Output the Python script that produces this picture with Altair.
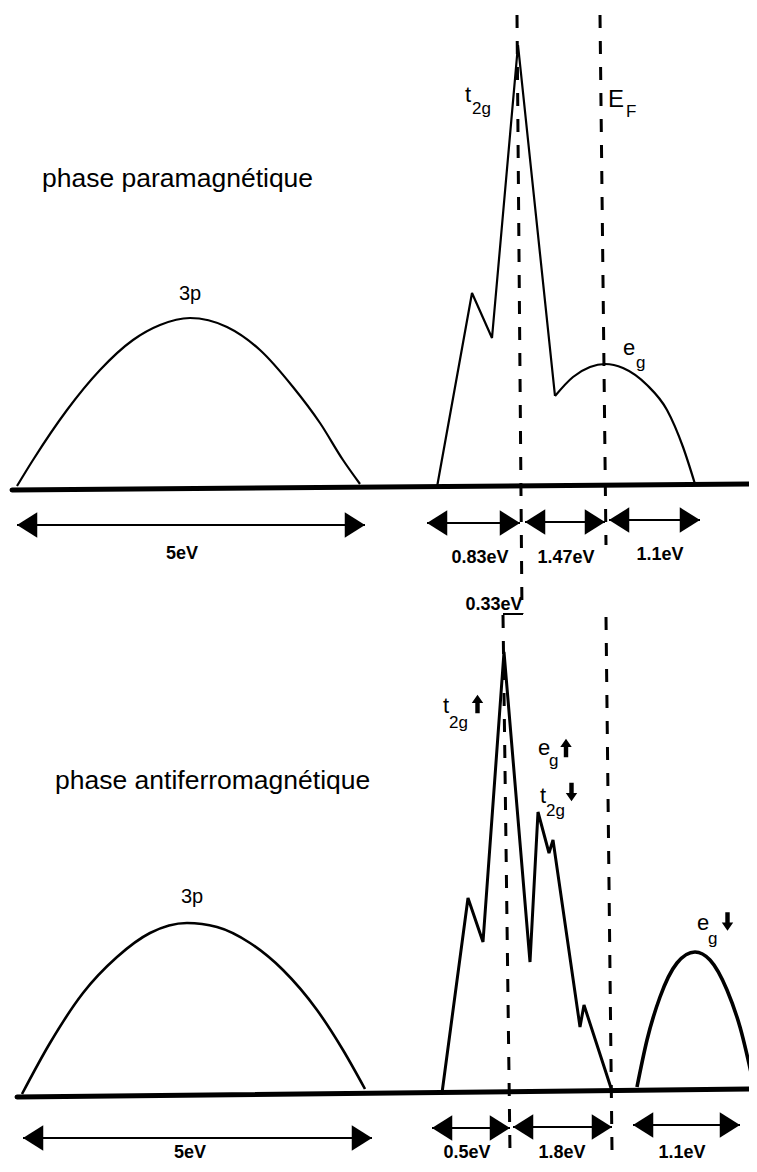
import altair as alt
import pandas as pd

# ---------------- drawing frame (schematic units = page pixels) ----------------
X0, X1 = 8, 749
Y0, Y1 = 8, 1164
PLOT_W, PLOT_H = X1 - X0, Y1 - Y0

# ---------------- paramagnetic phase: density-of-states outlines ----------------
p3_para_x = [17, 33, 67, 100, 133, 160, 190, 227, 260, 293, 320, 343, 360]
p3_para_y = [486, 460, 410, 370, 340, 325, 318, 327, 350, 387, 423, 460, 484]
t2g_para_x = [437, 472, 492, 518, 555]
t2g_para_y = [487, 293, 338, 45, 396]
eg_para_x = [555, 573, 590, 605, 623, 647, 667, 683, 695]
eg_para_y = [396, 377, 367, 364, 368, 385, 410, 447, 484]

# ---------------- antiferromagnetic phase ----------------
p3_af_x = [22, 50, 83, 117, 150, 187, 217, 250, 283, 317, 343, 365]
p3_af_y = [1094, 1043, 993, 957, 933, 923, 927, 943, 970, 1010, 1050, 1089]
t2g_af_x = [442, 468, 483, 504, 530, 538, 549, 553, 580, 584, 611]
t2g_af_y = [1093, 898, 942, 652, 962, 812, 853, 840, 1027, 1005, 1088]
eg_af_x = [637, 647, 660, 677, 695, 710, 727, 740, 754]
eg_af_y = [1087, 1040, 997, 963, 952, 960, 990, 1027, 1086]

# ---------------- energy axes (baselines) ----------------
base_x = [12, 17]
base_x2 = [757, 757]
base_y = [490, 1097]
base_y2 = [484, 1089]

# ---------------- dashed guides (t2g centre, Fermi level) ----------------
dash_x = [517, 600, 503, 606]
dash_x2 = [522, 606, 510, 612]
dash_y = [15, 15, 615, 617]
dash_y2 = [614, 545, 1152, 1150]

# ---------------- band-width arrows ----------------
arr_left = [17, 427, 525, 609, 23, 432, 513, 633]
arr_right = [365, 520, 605, 700, 372, 510, 612, 740]
arr_y = [525, 523, 522, 520, 1138, 1128, 1127, 1125]
arr_label = ["5eV", "0.83eV", "1.47eV", "1.1eV", "5eV", "0.5eV", "1.8eV", "1.1eV"]
arr_label_x = [182, 480, 566, 660, 190, 467, 562, 682]
arr_label_y = [559, 563, 563, 560, 1158, 1158, 1158, 1158]

# splitting label
split_label = ["0.33eV"]
split_x = [494]
split_y = [610]
under_x = [503]
under_x2 = [523]
under_y = [614]

# ---------------- titles and band labels ----------------
titles = ["phase paramagnétique", "phase antiferromagnétique"]
title_x = [42, 55]
title_y = [187, 789]

band3p = ["3p", "3p"]
band3p_x = [190, 192]
band3p_y = [300, 903]

main_txt = ["t", "E", "e", "t", "e", "t", "e"]
main_x = [465, 608, 623, 443, 538, 540, 697]
main_y = [102, 107, 355, 713, 755, 803, 930]
main_fs = [22, 24, 22, 22, 22, 22, 22]

sub_txt = ["2g", "F", "g", "2g", "g", "2g", "g"]
sub_x = [472, 626, 636, 449, 549, 546, 708]
sub_y = [114, 117, 368, 728, 766, 816, 944]

spin_x = [477.5, 566, 571.5, 727.5]
spin_y = [704, 748, 792, 921.5]
spin_dir = ["up", "up", "down", "down"]

FONT = "Liberation Sans"

xs = alt.Scale(domain=[X0, X1], nice=False, zero=False)
ys = alt.Scale(domain=[Y0, Y1], reverse=True, nice=False, zero=False)


def XX(f="x"):
    return alt.X(f"{f}:Q", scale=xs, axis=None)


def YY(f="y"):
    return alt.Y(f"{f}:Q", scale=ys, axis=None)


def series(items):
    rows = []
    for cid, xl, yl, w in items:
        for i, (a, b) in enumerate(zip(xl, yl)):
            rows.append(dict(id=cid, i=i, x=a, y=b, w=w))
    return pd.DataFrame(rows)


smooth_df = series([
    ("3p_para", p3_para_x, p3_para_y, 2.2),
    ("eg_para", eg_para_x, eg_para_y, 2.2),
    ("3p_af", p3_af_x, p3_af_y, 2.6),
    ("eg_af", eg_af_x, eg_af_y, 3.6),
])
poly_df = series([
    ("t2g_para", t2g_para_x, t2g_para_y, 2.2),
    ("t2g_af", t2g_af_x, t2g_af_y, 3.0),
])

smooth = alt.Chart(smooth_df).mark_line(interpolate="monotone", color="black").encode(
    x=XX(), y=YY(), detail="id:N", order="i:Q",
    strokeWidth=alt.StrokeWidth("w:Q", scale=None))
poly = alt.Chart(poly_df).mark_line(interpolate="linear", color="black",
                                    strokeJoin="miter", strokeMiterLimit=3).encode(
    x=XX(), y=YY(), detail="id:N", order="i:Q",
    strokeWidth=alt.StrokeWidth("w:Q", scale=None))

base_df = pd.DataFrame(dict(x=base_x, x2=base_x2, y=base_y, y2=base_y2))
base = alt.Chart(base_df).mark_rule(color="black", strokeWidth=5, strokeCap="round").encode(
    x=XX(), x2="x2:Q", y=YY(), y2="y2:Q")

dash_df = pd.DataFrame(dict(x=dash_x, x2=dash_x2, y=dash_y, y2=dash_y2))
dash = alt.Chart(dash_df).mark_rule(color="black", strokeWidth=3, strokeDash=[13, 13]).encode(
    x=XX(), x2="x2:Q", y=YY(), y2="y2:Q")

arr_df = pd.DataFrame(dict(xl=arr_left, xr=arr_right, y=arr_y))
shaft = alt.Chart(arr_df).mark_rule(color="black", strokeWidth=2).encode(
    x=XX("xl"), x2="xr:Q", y=YY())
head_l = alt.Chart(arr_df).mark_point(shape="M0,0L1.6,-1L1.6,1Z", filled=True, size=640,
                                      color="black", opacity=1, strokeWidth=0).encode(
    x=XX("xl"), y=YY())
head_r = alt.Chart(arr_df).mark_point(shape="M0,0L-1.6,-1L-1.6,1Z", filled=True, size=640,
                                      color="black", opacity=1, strokeWidth=0).encode(
    x=XX("xr"), y=YY())

lab_df = pd.DataFrame(dict(t=arr_label + split_label, x=arr_label_x + split_x, y=arr_label_y + split_y))
labels = alt.Chart(lab_df).mark_text(font=FONT, fontSize=18, fontWeight="bold", align="center",
                                     baseline="alphabetic", color="black").encode(
    x=XX(), y=YY(), text="t:N")

under_df = pd.DataFrame(dict(x=under_x, x2=under_x2, y=under_y))
under = alt.Chart(under_df).mark_rule(color="black", strokeWidth=2).encode(x=XX(), x2="x2:Q", y=YY())

title_df = pd.DataFrame(dict(t=titles, x=title_x, y=title_y))
title_txt = alt.Chart(title_df).mark_text(font=FONT, fontSize=26.5, align="left",
                                          baseline="alphabetic", color="black").encode(
    x=XX(), y=YY(), text="t:N")

p3_df = pd.DataFrame(dict(t=band3p, x=band3p_x, y=band3p_y))
p3_txt = alt.Chart(p3_df).mark_text(font=FONT, fontSize=20, align="center",
                                    baseline="alphabetic", color="black").encode(
    x=XX(), y=YY(), text="t:N")

main_df = pd.DataFrame(dict(t=main_txt, x=main_x, y=main_y, fs=main_fs))
main_t = alt.Chart(main_df).mark_text(font=FONT, align="left", baseline="alphabetic",
                                      color="black").encode(
    x=XX(), y=YY(), text="t:N", size=alt.Size("fs:Q", scale=None))

sub_df = pd.DataFrame(dict(t=sub_txt, x=sub_x, y=sub_y))
sub_t = alt.Chart(sub_df).mark_text(font=FONT, fontSize=17, align="left", baseline="alphabetic",
                                    color="black").encode(
    x=XX(), y=YY(), text="t:N")

spin_df = pd.DataFrame(dict(x=spin_x, y=spin_y, d=spin_dir))
UP = "M0,-1L0.62,-0.1L0.24,-0.1L0.24,1L-0.24,1L-0.24,-0.1L-0.62,-0.1Z"
DOWN = "M0,1L0.62,0.1L0.24,0.1L0.24,-1L-0.24,-1L-0.24,0.1L-0.62,0.1Z"
spin_up = alt.Chart(spin_df).transform_filter(alt.datum.d == "up").mark_point(
    shape=UP, filled=True, size=340, color="black", opacity=1, strokeWidth=0).encode(x=XX(), y=YY())
spin_down = alt.Chart(spin_df).transform_filter(alt.datum.d == "down").mark_point(
    shape=DOWN, filled=True, size=340, color="black", opacity=1, strokeWidth=0).encode(x=XX(), y=YY())

chart = alt.layer(
    dash, base, smooth, poly, shaft, head_l, head_r, labels, under,
    title_txt, p3_txt, main_t, sub_t, spin_up, spin_down
).properties(
    width=PLOT_W, height=PLOT_H,
    autosize=alt.AutoSizeParams(type="none"),
    padding=0, background="white"
).configure_view(stroke=None)

chart.save("out.html", embed_options={"renderer": "svg", "actions": False})
